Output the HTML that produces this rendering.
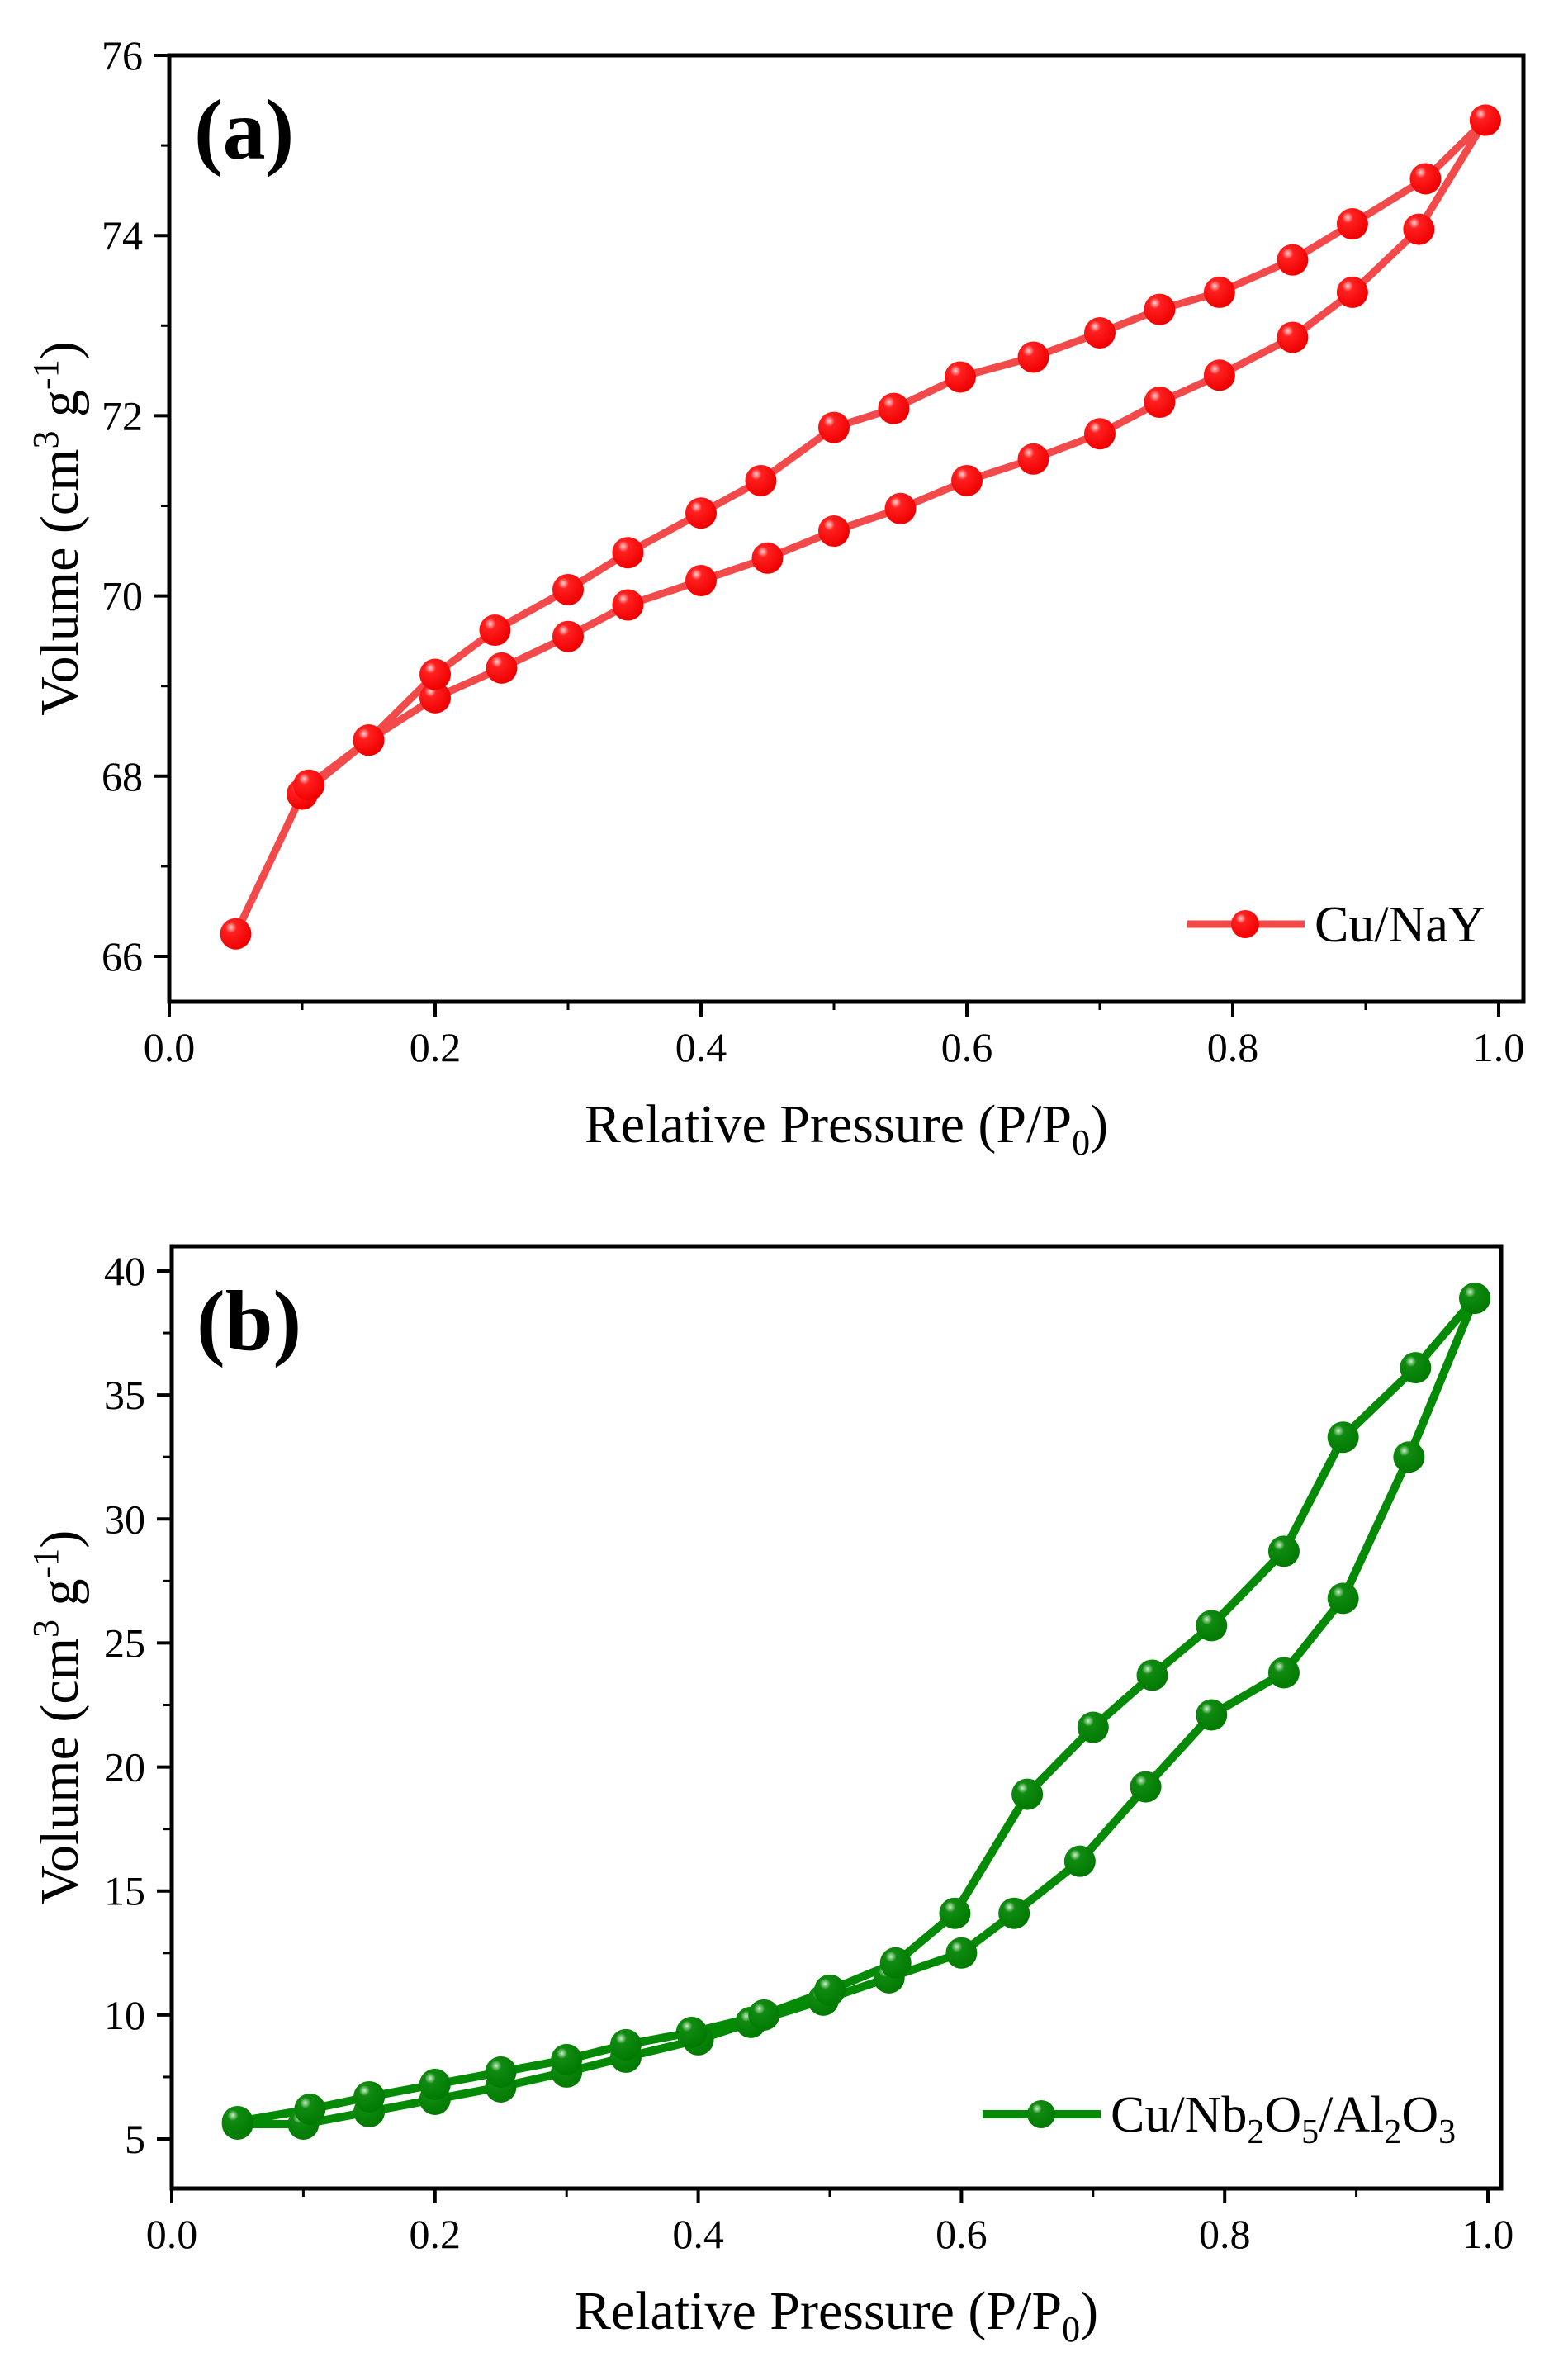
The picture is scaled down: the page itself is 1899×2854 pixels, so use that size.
<!DOCTYPE html>
<html><head><meta charset="utf-8">
<style>
html,body{margin:0;padding:0;background:#fff;}
svg{display:block;font-family:"Liberation Serif",serif;}
</style></head>
<body>
<svg id="fig" width="1899" height="2854" viewBox="0 0 1899 2854" xmlns="http://www.w3.org/2000/svg">
<defs>
<radialGradient id="gr" cx="0.35" cy="0.3" r="0.7"><stop offset="0" stop-color="#ffd0d0"/><stop offset="0.25" stop-color="#ff2020"/><stop offset="1" stop-color="#f00000"/></radialGradient>
<radialGradient id="gg" cx="0.35" cy="0.3" r="0.7"><stop offset="0" stop-color="#c8f0c8"/><stop offset="0.25" stop-color="#108a10"/><stop offset="1" stop-color="#007a00"/></radialGradient>
</defs>
<rect width="1899" height="2854" fill="#fff"/>
<g id="pa"></g>
<g id="pb"></g>
</svg>
<script>
// Panel (a) Cu/NaY data
const aAdsX = [0.05,0.10,0.15,0.20,0.25,0.30,0.345,0.40,0.45,0.50,0.55,0.60,0.65,0.70,0.745,0.79,0.845,0.89,0.94,0.99];
const aAdsY = [66.25,67.8,68.4,68.87,69.2,69.55,69.9,70.17,70.42,70.72,70.97,71.28,71.52,71.8,72.15,72.45,72.87,73.37,74.07,75.28];
const aDesX = [0.99,0.945,0.89,0.845,0.79,0.745,0.70,0.65,0.595,0.545,0.50,0.445,0.40,0.345,0.30,0.245,0.20,0.15,0.105];
const aDesY = [75.28,74.63,74.13,73.73,73.37,73.18,72.92,72.65,72.43,72.08,71.87,71.28,70.92,70.48,70.07,69.62,69.13,68.4,67.9];
const aYTicks = [66,68,70,72,74,76];
// Panel (b) Cu/Nb2O5/Al2O3 data
const bAdsX = [0.05,0.10,0.15,0.20,0.25,0.30,0.345,0.40,0.44,0.495,0.545,0.60,0.64,0.69,0.74,0.79,0.845,0.89,0.94,0.99];
const bAdsY = [5.6,5.6,6.1,6.6,7.1,7.7,8.3,9.0,9.7,10.6,11.5,12.5,14.1,16.2,19.2,22.1,23.8,26.8,32.5,38.9];
const bDesX = [0.99,0.945,0.89,0.845,0.79,0.745,0.70,0.65,0.595,0.55,0.50,0.45,0.395,0.345,0.30,0.25,0.20,0.15,0.105,0.05];
const bDesY = [38.9,36.1,33.3,28.7,25.7,23.7,21.6,18.9,14.1,12.1,11.0,10.0,9.3,8.8,8.2,7.7,7.2,6.7,6.2,5.7];
const bYTicks = [5,10,15,20,25,30,35,40];
const xTickLabels = ["0.0","0.2","0.4","0.6","0.8","1.0"];

const NS="http://www.w3.org/2000/svg";
function mk(parent,tag,attrs,text){const e=document.createElementNS(NS,tag);for(const k in attrs)e.setAttribute(k,attrs[k]);if(text!==undefined)e.textContent=text;parent.appendChild(e);return e;}

function panel(g,cfg){
  const X=v=>cfg.x0+(v-0)*(cfg.x1-cfg.x0);
  const Y=v=>cfg.y0+(v-cfg.ymin)*(cfg.y1-cfg.y0)/(cfg.ymax-cfg.ymin);
  const fr=mk(g,'rect',{x:cfg.L,y:cfg.T,width:cfg.R-cfg.L,height:cfg.B-cfg.T,fill:'none',stroke:'#000','stroke-width':5});
  
  
  for(let i=0;i<=10;i++){
    const v=i/10, x=X(v), major=i%2===0;
    const t=mk(g,'line',{x1:x,x2:x,y1:cfg.B,y2:cfg.B+(major?18:10),stroke:'#000','stroke-width':major?4:3});
    
    
    if(major){
      const l=mk(g,'text',{x:x,y:cfg.B+72,'font-size':50,'text-anchor':'middle',fill:'#000'},xTickLabels[i/2]);
      
      
    }
  }
  const tk=cfg.yticks;
  const step=tk[1]-tk[0];
  for(let i=0;i<tk.length;i++){
    const y=Y(tk[i]);
    const t=mk(g,'line',{x1:cfg.L-18,x2:cfg.L,y1:y,y2:y,stroke:'#000','stroke-width':4});
    
    
    const l=mk(g,'text',{x:cfg.L-32,y:y+17,'font-size':50,'text-anchor':'end',fill:'#000'},String(tk[i]));
    
    
    const ym=Y(tk[i]+step/2);
    if(ym>cfg.T+2){
      const m=mk(g,'line',{x1:cfg.L-10,x2:cfg.L,y1:ym,y2:ym,stroke:'#000','stroke-width':3});
      
      
    }
  }
  const series=[[cfg.ax,cfg.ay,'adsorption'],[cfg.dx,cfg.dy,'desorption']];
  series.forEach(s=>{
    const pts=s[0].map((v,i)=>X(v)+','+Y(s[1][i])).join(' ');
    const pl=mk(g,'polyline',{points:pts,fill:'none',stroke:cfg.lc,'stroke-width':cfg.lw,'stroke-linejoin':'round'});
    
    
  });
  series.forEach(s=>{
    s[0].forEach((v,i)=>{
      const c=mk(g,'circle',{cx:X(v),cy:Y(s[1][i]),r:cfg.mr,fill:cfg.grad});
      
      
    });
  });
  const lg=mk(g,'g',{});
  
  
  mk(lg,'line',{x1:cfg.legX,x2:cfg.legX+143,y1:cfg.legY,y2:cfg.legY,stroke:cfg.lc,'stroke-width':cfg.lw});
  mk(lg,'circle',{cx:cfg.legX+71,cy:cfg.legY,r:cfg.mr-2,fill:cfg.grad});
  const lt=mk(lg,'text',{x:cfg.legX+155,y:cfg.legY+21,'font-size':62,fill:'#000'});
  lt.innerHTML=cfg.legText;
  const pl=mk(g,'text',{x:cfg.L+30,y:cfg.T+125,'font-size':104,'font-weight':'bold',fill:'#000'},cfg.label);
  
  
  const xt=mk(g,'text',{x:(cfg.L+cfg.R)/2,y:cfg.B+170,'font-size':66,'text-anchor':'middle',fill:'#000'});
  xt.innerHTML='Relative Pressure (P/P<tspan font-size="44" dy="15">0</tspan><tspan dy="-15">)</tspan>';
  
  
  const cy=(cfg.T+cfg.B)/2;
  const yt=mk(g,'text',{x:0,y:0,'font-size':66,'text-anchor':'middle',fill:'#000',transform:'translate(94,'+cy+') rotate(-90)'});
  yt.innerHTML='Volume (cm<tspan font-size="44" dy="-24">3</tspan><tspan dy="24"> g</tspan><tspan font-size="44" dy="-24">-1</tspan><tspan dy="24">)</tspan>';
  
  
}

panel(document.getElementById('pa'),{L:205,R:1845,T:67,B:1213,x0:205,x1:1815,ymin:66,ymax:76,y0:1158,y1:67,
  yticks:aYTicks,ax:aAdsX,ay:aAdsY,dx:aDesX,dy:aDesY,lc:'#f24a4a',lw:9,mr:19,grad:'url(#gr)',
  legX:1437,legY:1119,legText:'Cu/NaY',label:'(a)'});
panel(document.getElementById('pb'),{L:208,R:1818,T:1509,B:2650,x0:208,x1:1802,ymin:5,ymax:40,y0:2590,y1:1539,
  yticks:bYTicks,ax:bAdsX,ay:bAdsY,dx:bDesX,dy:bDesY,lc:'#058a05',lw:10,mr:19,grad:'url(#gg)',
  legX:1190,legY:2560,legText:'Cu/Nb<tspan font-size="42" dy="14">2</tspan><tspan dy="-14">O</tspan><tspan font-size="42" dy="14">5</tspan><tspan dy="-14">/Al</tspan><tspan font-size="42" dy="14">2</tspan><tspan dy="-14">O</tspan><tspan font-size="42" dy="14">3</tspan>',label:'(b)'});
</script>
</body></html>
